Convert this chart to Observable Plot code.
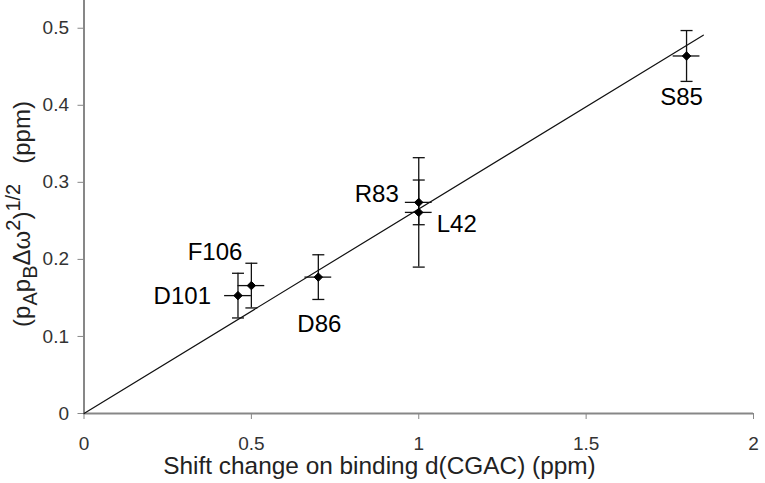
<!DOCTYPE html>
<html>
<head>
<meta charset="utf-8">
<script src="https://cdn.jsdelivr.net/npm/d3@7"></script>
<script src="https://cdn.jsdelivr.net/npm/@observablehq/plot@0.6"></script>
<style>
  html, body { margin: 0; padding: 0; background: #fff; }
  #chart svg { display: block; font-family: "Liberation Sans", Arial, sans-serif; }
</style>
</head>
<body>
<div id="chart"></div>
<script>
// ---- data ----
const names   = ["D101", "F106", "D86", "R83", "L42", "S85"];
const xValues = [0.46, 0.50, 0.70, 1.00, 1.00, 1.80];
const yValues = [0.153, 0.166, 0.177, 0.274, 0.261, 0.464];
const xErrors = [0.04, 0.04, 0.04, 0.04, 0.04, 0.04];
const yErrors = [0.029, 0.029, 0.029, 0.029, 0.071, 0.033];
const fitX = [0, 1.85];
const fitY = [0, 0.491];
const xTicks = [0, 0.5, 1, 1.5, 2];
const yTicks = [0, 0.1, 0.2, 0.3, 0.4, 0.5];
const xTitle = "Shift change on binding d(CGAC) (ppm)";

// ---- tables built from arrays ----
const points = names.map((name, i) => ({
  name, x: xValues[i], y: yValues[i], ex: xErrors[i], ey: yErrors[i]
}));
const fit = fitX.map((x, i) => ({x, y: fitY[i]}));

// label placement (pixel offsets from each point)
const labelPlacement = {
  D101: {dx: -27, dy: 1,   textAnchor: "end"},
  F106: {dx: -9,  dy: -33, textAnchor: "end"},
  D86:  {dx: 1,   dy: 47,  textAnchor: "middle"},
  R83:  {dx: -20, dy: -8,  textAnchor: "end"},
  L42:  {dx: 18,  dy: 12,  textAnchor: "start"},
  S85:  {dx: -5,  dy: 41,  textAnchor: "middle"}
};

const capSymbol = {
  draw(ctx) { ctx.moveTo(-6, 0); ctx.lineTo(6, 0); }
};

const axisGray = "#878787";
const ink = "#111";

const labelMarks = names.map(n => Plot.text(points.filter(d => d.name === n), {
  x: "x", y: "y", text: "name",
  fontSize: 24, fill: "#000",
  ...labelPlacement[n]
}));

const chart = Plot.plot({
  width: 765,
  height: 483,
  marginLeft: 83.5,
  marginRight: 12,
  marginTop: 0,
  marginBottom: 70,
  style: {fontFamily: "'Liberation Sans', Arial, sans-serif", background: "#fff"},
  x: {domain: [0, 2]},
  y: {domain: [0, 0.536]},
  marks: [
    Plot.axisX({ticks: xTicks, tickSize: 6, tickPadding: 17, tickFormat: d => String(d),
      fontSize: 19, fill: "#333", stroke: axisGray, label: null}),
    Plot.axisY({ticks: yTicks, tickSize: 6, tickPadding: 9, tickFormat: d => String(d),
      fontSize: 19, fill: "#333", stroke: axisGray, label: null}),
    Plot.ruleY([0], {stroke: axisGray, strokeWidth: 2}),
    Plot.ruleX([0], {stroke: axisGray, strokeWidth: 2}),
    Plot.line(fit, {x: "x", y: "y", stroke: ink, strokeWidth: 1.2}),
    Plot.ruleX(points, {x: "x", y1: d => d.y - d.ey, y2: d => d.y + d.ey, stroke: ink, strokeWidth: 1.3}),
    Plot.ruleY(points, {y: "y", x1: d => d.x - d.ex, x2: d => d.x + d.ex, stroke: ink, strokeWidth: 1.3}),
    Plot.dot(points, {x: "x", y: d => d.y + d.ey, symbol: capSymbol, stroke: ink, strokeWidth: 1.3, fill: "none"}),
    Plot.dot(points, {x: "x", y: d => d.y - d.ey, symbol: capSymbol, stroke: ink, strokeWidth: 1.3, fill: "none"}),
    Plot.dot(points, {x: "x", y: "y", symbol: "diamond2", r: 3.8, fill: "#000", stroke: "#000", strokeWidth: 1}),
    ...labelMarks
  ]
});

// axis titles
const svg = d3.select(chart);
svg.append("text")
  .attr("x", 379.5).attr("y", 474)
  .attr("text-anchor", "middle")
  .attr("font-size", 24.4).attr("fill", "#222")
  .text(xTitle);

const yt = svg.append("text")
  .attr("transform", "translate(30,214) rotate(-90)")
  .attr("text-anchor", "middle")
  .attr("font-size", 24).attr("fill", "#222");
yt.append("tspan").text("(p");
yt.append("tspan").attr("dy", 7).attr("font-size", 20).text("A");
yt.append("tspan").attr("dy", -7).text("p");
yt.append("tspan").attr("dy", 7).attr("font-size", 20).text("B");
yt.append("tspan").attr("dy", -7).text("Δω");
yt.append("tspan").attr("dy", -10).attr("font-size", 20).text("2");
yt.append("tspan").attr("dy", 10).text(")");
yt.append("tspan").attr("dy", -10).attr("font-size", 20).text("1/2");
yt.append("tspan").attr("dy", 10).text("\u00a0\u00a0\u00a0(ppm)");

document.getElementById("chart").appendChild(chart);
</script>
</body>
</html>
